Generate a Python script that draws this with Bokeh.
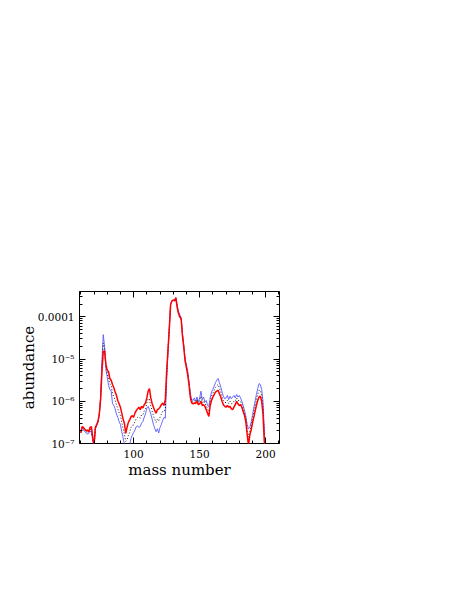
from bokeh.plotting import figure
from bokeh.models import Range1d, LinearAxis, LogAxis, FixedTicker, SingleIntervalTicker, ColumnDataSource
from bokeh.embed import file_html
from bokeh.resources import INLINE

# mass numbers 60..200
mass = list(range(60, 201))

# log10(abundance)
red_log = [
    -6.75, -6.60, -6.62, -6.66, -6.70, -6.68, -6.72, -6.62, -6.60, -6.85,  # 60-69
    -7.05, -6.62, -6.55, -6.48, -6.30, -5.95, -5.30, -4.82, -4.80, -5.12,  # 70-79
    -5.26, -5.30, -5.46, -5.50, -5.60, -5.68, -5.78, -5.86, -5.98, -6.06,  # 80-89
    -6.14, -6.28, -6.42, -6.52, -6.76, -6.62, -6.50, -6.44, -6.37, -6.34,  # 90-99
    -6.38, -6.28, -6.22, -6.18, -6.14, -6.20, -6.12, -6.16, -6.08, -6.04,  # 100-109
    -5.92, -5.76, -5.70, -5.92, -6.05, -6.14, -6.22, -6.28, -6.20, -6.18,  # 110-119
    -6.14, -6.08, -6.04, -6.10, -5.96, -5.30, -4.80, -4.30, -3.72, -3.62,  # 120-129
    -3.60, -3.62, -3.55, -3.78, -3.92, -4.00, -4.05, -4.45, -4.72, -5.05,  # 130-139
    -5.20, -5.38, -5.62, -5.92, -6.04, -6.06, -6.04, -6.05, -6.00, -6.08,  # 140-149
    -6.06, -6.00, -6.10, -6.08, -6.12, -6.20, -6.28, -6.36, -6.10, -5.98,  # 150-159
    -5.90, -5.84, -5.78, -5.76, -5.74, -5.82, -5.90, -6.00, -6.08, -6.12,  # 160-169
    -6.14, -6.10, -6.14, -6.12, -6.18, -6.20, -6.14, -6.08, -6.00, -6.06,  # 170-179
    -6.10, -6.08, -6.14, -6.24, -6.34, -6.48, -6.78, -7.05, -6.80, -6.68,  # 180-189
    -6.52, -6.38, -6.24, -6.10, -5.98, -5.90, -5.88, -6.00, -6.30, -6.95,  # 190-199
    -7.60,
]

blue_log = [
    -6.72, -6.62, -6.68, -6.72, -6.74, -6.78, -6.76, -6.70, -6.74, -6.92,
    -7.10, -6.66, -6.58, -6.50, -6.32, -5.90, -5.05, -4.42, -4.70, -5.25,
    -5.42, -5.62, -5.72, -5.76, -6.05, -6.10, -6.18, -6.30, -6.38, -6.48,
    -6.55, -6.72, -6.86, -7.02, -7.15, -7.20, -7.12, -7.05, -6.88, -6.80,
    -6.74, -6.68, -6.60, -6.58, -6.62, -6.60, -6.52, -6.48, -6.38, -6.30,
    -6.16, -6.12, -6.20, -6.30, -6.42, -6.55, -6.64, -6.72, -6.65, -6.75,
    -6.62, -6.55, -6.45, -6.38, -6.40, -5.50, -4.85, -4.25, -3.70, -3.62,
    -3.60, -3.60, -3.54, -3.72, -3.88, -3.95, -4.02, -4.40, -4.68, -5.00,
    -5.14, -5.30, -5.55, -5.82, -5.96, -5.98, -5.92, -6.00, -5.90, -6.02,
    -5.92, -5.76, -5.96, -5.90, -6.02, -5.98, -6.10, -6.12, -5.92, -5.78,
    -5.72, -5.64, -5.56, -5.50, -5.46, -5.56, -5.66, -5.78, -5.88, -5.94,
    -5.92, -5.86, -5.96, -5.88, -5.94, -5.90, -5.86, -5.92, -5.84, -5.90,
    -5.86, -5.92, -6.00, -6.10, -6.22, -6.35, -6.55, -6.65, -6.62, -6.50,
    -6.34, -6.16, -6.00, -5.84, -5.70, -5.58, -5.60, -5.72, -6.00, -6.70,
    -7.50,
]

black_log = [
    -6.74, -6.61, -6.65, -6.69, -6.72, -6.73, -6.74, -6.66, -6.67, -6.88,
    -7.08, -6.64, -6.56, -6.49, -6.31, -5.92, -5.18, -4.62, -4.75, -5.18,
    -5.34, -5.46, -5.59, -5.63, -5.82, -5.89, -5.98, -6.08, -6.18, -6.27,
    -6.34, -6.50, -6.64, -6.77, -6.95, -6.91, -6.81, -6.74, -6.62, -6.57,
    -6.56, -6.48, -6.41, -6.38, -6.38, -6.40, -6.32, -6.32, -6.23, -6.17,
    -6.04, -5.94, -5.95, -6.11, -6.23, -6.34, -6.43, -6.50, -6.42, -6.46,
    -6.38, -6.31, -6.24, -6.24, -6.18, -5.40, -4.82, -4.28, -3.71, -3.62,
    -3.60, -3.61, -3.55, -3.75, -3.90, -3.98, -4.04, -4.42, -4.70, -5.02,
    -5.17, -5.34, -5.58, -5.87, -6.00, -6.02, -5.98, -6.02, -5.95, -6.05,
    -5.99, -5.88, -6.03, -5.99, -6.07, -6.09, -6.19, -6.24, -6.01, -5.88,
    -5.81, -5.74, -5.67, -5.63, -5.60, -5.69, -5.78, -5.89, -5.98, -6.03,
    -6.03, -5.98, -6.05, -6.00, -6.06, -6.05, -6.00, -6.00, -5.92, -5.98,
    -5.98, -6.00, -6.07, -6.17, -6.28, -6.42, -6.66, -6.85, -6.71, -6.59,
    -6.43, -6.27, -6.12, -5.97, -5.84, -5.74, -5.74, -5.86, -6.15, -6.82,
    -7.55,
]

y_ticks = [1e-7, 1e-6, 1e-5, 1e-4]
y_tick_labels = ["10\u207b\u2077", "10\u207b\u2076", "10\u207b\u2075", "0.0001"]
y_minor = [m * 10.0 ** e for e in (-7, -6, -5, -4) for m in range(2, 10)]

src = ColumnDataSource(dict(
    mass=mass,
    red=[10.0 ** v for v in red_log],
    blue=[10.0 ** v for v in blue_log],
    black=[10.0 ** v for v in black_log],
))

FONT = "DejaVu Serif"

p = figure(
    output_backend="svg", toolbar_location=None,
    y_axis_type="log",
    x_range=Range1d(59, 210.5), y_range=Range1d(1e-7, 4e-4),
    frame_width=200, frame_height=152,
    min_border_left=79, min_border_top=291, min_border_right=20, min_border_bottom=60,
    x_axis_label="mass number", y_axis_label="abundance",
)
p.background_fill_color = "white"
p.border_fill_color = "white"
p.outline_line_color = "black"
p.outline_line_width = 1
p.xgrid.visible = False
p.ygrid.visible = False

p.line("mass", "blue", source=src, line_color="#5a5aff", line_width=0.9)
p.line("mass", "black", source=src, line_color="black", line_width=0.9, line_dash="1 2")
p.line("mass", "red", source=src, line_color="#ff0000", line_width=1.5)

xt = SingleIntervalTicker(interval=50, num_minor_ticks=5)
yt = FixedTicker(ticks=y_ticks, minor_ticks=y_minor)
overrides = {t: l for t, l in zip(y_ticks, y_tick_labels)}

def style(ax, labels=True):
    ax.axis_line_color = None
    ax.major_tick_in = 6
    ax.major_tick_out = 0
    ax.minor_tick_in = 3
    ax.minor_tick_out = 0
    ax.major_tick_line_color = "black"
    ax.minor_tick_line_color = "black"
    ax.major_label_text_font = FONT
    ax.major_label_text_font_size = "10.5px"
    ax.major_label_text_color = "black" if labels else None
    ax.axis_label_text_font = FONT
    ax.axis_label_text_font_size = "15px"
    ax.axis_label_text_font_style = "normal"
    ax.axis_label_text_color = "black"

p.xaxis.ticker = xt
p.yaxis.ticker = yt
p.yaxis.major_label_overrides = overrides
p.xaxis.major_label_standoff = 6
p.yaxis.major_label_standoff = 5
style(p.xaxis[0])
style(p.yaxis[0])
p.xaxis.axis_label_standoff = 0
p.yaxis.axis_label_standoff = -3

top = LinearAxis(ticker=SingleIntervalTicker(interval=50, num_minor_ticks=5))
style(top, labels=False)
top.major_label_text_font_size = "0px"
p.add_layout(top, "above")

right = LogAxis(ticker=FixedTicker(ticks=y_ticks, minor_ticks=y_minor))
style(right, labels=False)
right.major_label_text_font_size = "0px"
p.add_layout(right, "right")

open("out.html", "w").write(file_html(p, INLINE))
